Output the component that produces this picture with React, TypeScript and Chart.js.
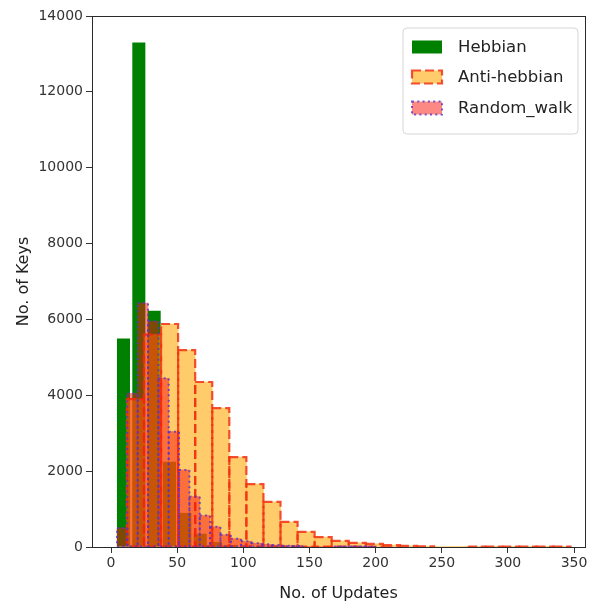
import React, { useEffect, useRef } from 'react';
import { Chart, registerables } from 'chart.js';

Chart.register(...registerables);

// ---- axis ticks / ranges ----
const xTickValues = [0, 50, 100, 150, 200, 250, 300, 350];
const yTickValues = [0, 2000, 4000, 6000, 8000, 10000, 12000, 14000];
const xMin = -14.4;
const xMax = 358.3;
const yMin = 0;
const yMax = 14000;

// ---- Hebbian histogram ----
const hebbianFirstEdge = 3.6;
const hebbianBinWidth = 11.6;
const hebbianCounts = [5500, 13300, 6230, 2250, 900, 350, 130, 50, 20, 8, 3];

// ---- Anti-hebbian histogram ----
const antiFirstEdge = 12.0;
const antiBinWidth = 12.9;
const antiCounts = [3900, 5600, 5880, 5190, 4350, 3660, 2370, 1660, 1190, 660, 400, 260, 160, 110, 80, 50, 30, 20, 12, 8, 6, 5, 4, 3, 2, 2];

// ---- Random walk histogram ----
const randomFirstEdge = 4.5;
const randomBinWidth = 7.82;
const randomCounts = [500, 4050, 6430, 5950, 4450, 3040, 2030, 1330, 830, 535, 320, 220, 150, 100, 70, 50, 35, 25, 18, 12, 8, 6, 4, 3, 2];

const labels = ['Hebbian', 'Anti-hebbian', 'Random_walk'];

const toPoints = (first: number, width: number, counts: number[]) =>
  counts.map((c, i) => ({ x: first + (i + 0.5) * width, y: c }));

const FONT = '"DejaVu Sans", sans-serif';

const edgePlugin = {
  id: 'histEdges',
  afterDatasetDraw(chart: any, args: any) {
    const ds = chart.data.datasets[args.index];
    if (!ds.edgeColor) return;
    const ctx = chart.ctx;
    const a = chart.chartArea;
    ctx.save();
    ctx.beginPath();
    ctx.rect(a.left, a.top, a.right - a.left, a.bottom - a.top + 2);
    ctx.clip();
    ctx.strokeStyle = ds.edgeColor;
    ctx.lineWidth = ds.edgeWidth;
    ctx.setLineDash(ds.edgeDash);
    ctx.lineCap = 'butt';
    args.meta.data.forEach((el: any) => {
      const p = el.getProps(['x', 'y', 'base', 'width'], true);
      const top = Math.min(p.y, p.base);
      const h = Math.abs(p.base - p.y);
      if (h < 0.2) return;
      ctx.strokeRect(p.x - p.width / 2, top, p.width, h);
    });
    ctx.restore();
  },
};

const framePlugin = {
  id: 'frame',
  afterDatasetsDraw(chart: any) {
    const ctx = chart.ctx;
    const a = chart.chartArea;
    ctx.save();
    ctx.strokeStyle = '#2a2a2a';
    ctx.lineWidth = 1;
    ctx.strokeRect(Math.round(a.left) + 0.5, Math.round(a.top) + 0.5, Math.round(a.right - a.left), Math.round(a.bottom - a.top));
    ctx.restore();
  },
};

const legendPlugin = {
  id: 'boxLegend',
  afterDraw(chart: any) {
    const ctx = chart.ctx;
    const a = chart.chartArea;
    const w = 175;
    const h = 106;
    const x0 = a.right - 7 - w;
    const y0 = a.top + 12;
    ctx.save();
    ctx.beginPath();
    const r = 4;
    ctx.moveTo(x0 + r, y0);
    ctx.arcTo(x0 + w, y0, x0 + w, y0 + h, r);
    ctx.arcTo(x0 + w, y0 + h, x0, y0 + h, r);
    ctx.arcTo(x0, y0 + h, x0, y0, r);
    ctx.arcTo(x0, y0, x0 + w, y0, r);
    ctx.closePath();
    ctx.fillStyle = 'rgba(255,255,255,0.85)';
    ctx.fill();
    ctx.strokeStyle = '#d6d6d6';
    ctx.lineWidth = 1;
    ctx.stroke();
    const rowY = [19, 49, 80];
    chart.data.datasets.forEach((ds: any, i: number) => {
      const cy = y0 + rowY[i];
      const px = x0 + 9;
      const pw = 30;
      const ph = 13;
      ctx.fillStyle = ds.backgroundColor;
      ctx.fillRect(px, cy - ph / 2, pw, ph);
      if (ds.edgeColor) {
        ctx.strokeStyle = ds.edgeColor;
        ctx.lineWidth = ds.edgeWidth;
        ctx.setLineDash(ds.edgeDash);
        ctx.strokeRect(px, cy - ph / 2, pw, ph);
        ctx.setLineDash([]);
      }
      ctx.fillStyle = '#222';
      ctx.font = `16.5px ${FONT}`;
      ctx.textBaseline = 'middle';
      ctx.textAlign = 'left';
      ctx.fillText(ds.label, x0 + 55, cy + 1);
    });
    ctx.restore();
  },
};

const setXTicks = (s: any) => {
  s.ticks = xTickValues.map((v) => ({ value: v }));
};

const hiddenX = () => ({
  type: 'linear',
  display: false,
  min: xMin,
  max: xMax,
  offset: false,
  afterBuildTicks: setXTicks,
  grid: { offset: false },
});

export default function App() {
  const ref = useRef<HTMLCanvasElement>(null);
  useEffect(() => {
    if (!ref.current) return;
    const chart = new Chart(ref.current, {
      type: 'bar',
      data: {
        datasets: [
          {
            label: labels[0],
            data: toPoints(hebbianFirstEdge, hebbianBinWidth, hebbianCounts),
            backgroundColor: '#008000',
            borderWidth: 0,
            barPercentage: 0.85,
            categoryPercentage: 1,
            grouped: false,
            xAxisID: 'x',
            order: 3,
          },
          {
            label: labels[1],
            data: toPoints(antiFirstEdge, antiBinWidth, antiCounts),
            backgroundColor: 'rgba(255,165,0,0.58)',
            borderWidth: 0,
            barPercentage: 1,
            categoryPercentage: 1,
            grouped: false,
            xAxisID: 'x2',
            order: 2,
            edgeColor: 'rgba(242,50,20,0.85)',
            edgeWidth: 2.2,
            edgeDash: [9, 4],
          },
          {
            label: labels[2],
            data: toPoints(randomFirstEdge, randomBinWidth, randomCounts),
            backgroundColor: 'rgba(250,20,10,0.5)',
            borderWidth: 0,
            barPercentage: 1,
            categoryPercentage: 1,
            grouped: false,
            xAxisID: 'x3',
            order: 1,
            edgeColor: 'rgba(90,50,200,0.8)',
            edgeWidth: 2,
            edgeDash: [2, 3.3],
          },
        ] as any,
      },
      options: {
        responsive: false,
        animation: false,
        events: [],
        layout: { padding: { left: 0, top: 16, right: 12, bottom: 0 } },
        plugins: {
          legend: { display: false },
          tooltip: { enabled: false },
        },
        scales: {
          x: {
            type: 'linear',
            position: 'bottom',
            min: xMin,
            max: xMax,
            offset: false,
            afterBuildTicks: setXTicks,
            afterFit: (s: any) => {
              s.height = 64;
            },
            grid: {
              display: true,
              offset: false,
              drawOnChartArea: false,
              drawTicks: true,
              tickLength: 6,
              tickColor: '#333',
            },
            border: { display: true, color: '#2a2a2a' },
            ticks: {
              color: '#333',
              font: { family: FONT, size: 14 },
              padding: 2,
              maxRotation: 0,
              callback: (v: any) => String(v),
            },
            title: {
              display: true,
              text: 'No. of Updates',
              color: '#222',
              font: { family: FONT, size: 16 },
              padding: { top: 0, bottom: 8 },
            },
          },
          x2: hiddenX() as any,
          x3: hiddenX() as any,
          y: {
            type: 'linear',
            min: yMin,
            max: yMax,
            afterBuildTicks: (s: any) => {
              s.ticks = yTickValues.map((v) => ({ value: v }));
            },
            afterFit: (s: any) => {
              s.width = 92;
            },
            grid: {
              display: true,
              drawOnChartArea: false,
              drawTicks: true,
              tickLength: 6,
              tickColor: '#333',
            },
            border: { display: true, color: '#2a2a2a' },
            ticks: {
              color: '#333',
              font: { family: FONT, size: 14 },
              padding: 3,
              callback: (v: any) => String(v),
            },
            title: {
              display: true,
              text: 'No. of Keys',
              color: '#222',
              font: { family: FONT, size: 16 },
              padding: { top: 14, bottom: 0 },
            },
          },
        },
      } as any,
      plugins: [edgePlugin, framePlugin, legendPlugin],
    });
    return () => chart.destroy();
  }, []);
  return (
    <div style={{ position: 'fixed', left: 0, top: 0, width: 597, height: 611, background: '#fff' }}>
      <canvas ref={ref} width={597} height={611} />
    </div>
  );
}
